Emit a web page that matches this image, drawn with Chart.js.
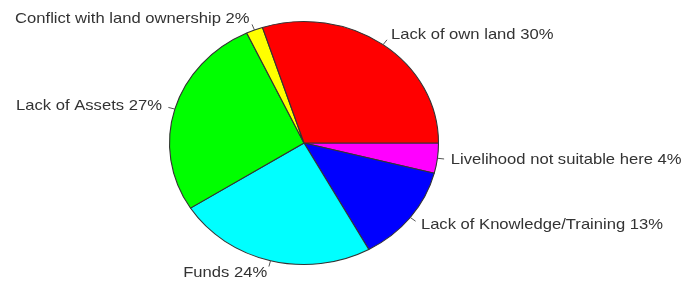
<!DOCTYPE html>
<html>
<head>
<meta charset="utf-8">
<script src="https://cdn.jsdelivr.net/npm/chart.js@4/dist/chart.umd.min.js"></script>
<style>
html,body{margin:0;padding:0;background:#fff;}
canvas{display:block;}
</style>
</head>
<body>
<canvas id="c" width="684" height="287"></canvas>
<script>
// Slices listed clockwise starting at 3 o'clock (same layout as the R pie, which runs counter-clockwise)
const categories = ['Livelihood not suitable here', 'Lack of Knowledge/Training', 'Funds', 'Lack of Assets', 'Conflict with land ownership', 'Lack of own land'];
const percents = [4, 13, 24, 27, 2, 30];
const sliceColors = ['#FF00FF', '#0000FF', '#00FFFF', '#00FF00', '#FFFF00', '#FF0000'];

const STRETCH_X = 1.107;

const ellipsePlugin = {
  id: 'ellipse',
  beforeDatasetsDraw(chart) {
    const arc = chart.getDatasetMeta(0).data[0];
    const ctx = chart.ctx;
    ctx.save();
    ctx.translate(arc.x, arc.y);
    ctx.scale(STRETCH_X, 1);
    ctx.translate(-arc.x, -arc.y);
  },
  afterDatasetsDraw(chart) {
    const ctx = chart.ctx;
    ctx.restore();
    const meta = chart.getDatasetMeta(0);
    ctx.save();
    meta.data.forEach((arc, i) => {
      const mid = (arc.startAngle + arc.endAngle) / 2;
      const r = arc.outerRadius;
      const c = Math.cos(mid), s = Math.sin(mid);
      // leader tick
      ctx.strokeStyle = '#555';
      ctx.lineWidth = 1;
      ctx.beginPath();
      ctx.moveTo(arc.x + c * r * STRETCH_X, arc.y + s * r);
      ctx.lineTo(arc.x + c * r * 1.05 * STRETCH_X, arc.y + s * r * 1.05);
      ctx.stroke();
      // label
      const lx = arc.x + c * r * 1.1 * STRETCH_X;
      const ly = arc.y + s * r * 1.1;
      ctx.save();
      ctx.translate(lx, ly);
      ctx.scale(STRETCH_X, 1);
      ctx.font = '15px "Liberation Sans", Arial, sans-serif';
      ctx.fillStyle = '#333';
      ctx.textBaseline = 'middle';
      ctx.textAlign = c >= 0 ? 'left' : 'right';
      ctx.fillText(categories[i] + ' ' + percents[i] + '%', 0, 0);
      ctx.restore();
    });
    ctx.restore();
  }
};

new Chart(document.getElementById('c'), {
  type: 'pie',
  data: {
    labels: categories,
    datasets: [{
      data: percents,
      backgroundColor: sliceColors,
      borderColor: '#333',
      borderWidth: 1
    }]
  },
  options: {
    responsive: false,
    animation: false,
    devicePixelRatio: 1,
    rotation: 90,
    layout: { padding: { top: 21, bottom: 22, left: 0, right: 76 } },
    plugins: {
      legend: { display: false },
      tooltip: { enabled: false }
    }
  },
  plugins: [ellipsePlugin]
});
</script>
</body>
</html>
